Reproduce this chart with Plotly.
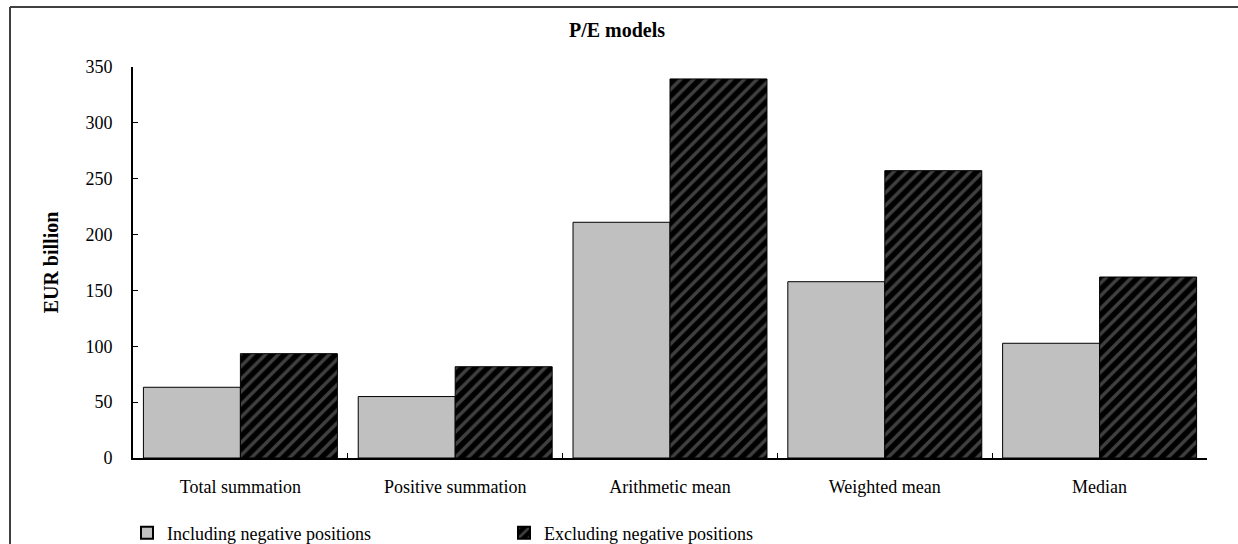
import plotly.graph_objects as go

categories = ["Total summation", "Positive summation", "Arithmetic mean", "Weighted mean", "Median"]
including_negative = [63.3, 55.0, 211.0, 157.8, 102.7]
excluding_negative = [93.4, 81.7, 339.3, 257.2, 162.0]
series_names = ["Including negative positions", "Excluding negative positions"]
y_ticks = [0, 50, 100, 150, 200, 250, 300, 350]

W, H = 1238, 544
L, R, T, B = 133, 31, 67, 86
pw, ph = W - L - R, H - T - B

serif = "Liberation Serif, Times New Roman, serif"

fig = go.Figure()
fig.add_trace(go.Bar(
    x=categories, y=including_negative, name=series_names[0],
    marker=dict(color="#c0c0c0", line=dict(color="black", width=1)),
))
fig.add_trace(go.Bar(
    x=categories, y=excluding_negative, name=series_names[1],
    marker=dict(color="black", line=dict(color="black", width=1),
                pattern=dict(shape="/", bgcolor="black", fgcolor="#7f7f7f",
                             size=9, solidity=0.38)),
))

# outer frame (left and top edges visible, rest cut off)
def px_x(p):
    return (p - L) / pw

def px_y(p):
    return (H - B - p) / ph

fig.add_shape(type="line", xref="paper", yref="paper",
              x0=px_x(10), x1=px_x(1260), y0=px_y(7), y1=px_y(7),
              line=dict(color="#404040", width=2))
fig.add_shape(type="line", xref="paper", yref="paper",
              x0=px_x(10), x1=px_x(10), y0=px_y(7), y1=px_y(560),
              line=dict(color="#404040", width=2))

fig.update_layout(
    width=W, height=H,
    margin=dict(l=L, r=R, t=T, b=B, autoexpand=False),
    paper_bgcolor="white", plot_bgcolor="white",
    barmode="group", bargap=0.097, bargroupgap=0,
    font=dict(family=serif, size=18, color="black"),
    title=dict(text="<b>P/E models</b>", x=617 / W, xanchor="center",
               y=1 - 30 / H, yanchor="middle",
               font=dict(family=serif, size=20, color="black")),
    showlegend=True,
    legend=dict(orientation="h", x=px_x(127), xanchor="left",
                y=px_y(533), yanchor="middle",
                entrywidth=332, entrywidthmode="pixels",
                font=dict(family=serif, size=18, color="black"),
                itemsizing="constant", bgcolor="rgba(0,0,0,0)",
                traceorder="normal"),
)

fig.update_xaxes(
    showline=True, linecolor="black", linewidth=2,
    ticks="inside", tickson="boundaries", ticklen=5, tickcolor="black", tickwidth=1,
    showgrid=False, zeroline=False,
    tickfont=dict(family=serif, size=18, color="black"),
    ticklabelstandoff=11,
)
fig.update_yaxes(
    range=[0, 350], tickvals=y_ticks, ticktext=[str(v) for v in y_ticks],
    showline=True, linecolor="black", linewidth=2,
    ticks="inside", ticklen=5, tickcolor="black", tickwidth=1,
    showgrid=False, zeroline=False,
    tickfont=dict(family=serif, size=18, color="black"),
    ticklabelstandoff=15,
    title=dict(text="<b>EUR billion</b>", standoff=21,
               font=dict(family=serif, size=20, color="black")),
)

fig.write_html("out.html", config={"displayModeBar": False},
               post_script="document.body.style.margin='0';")
